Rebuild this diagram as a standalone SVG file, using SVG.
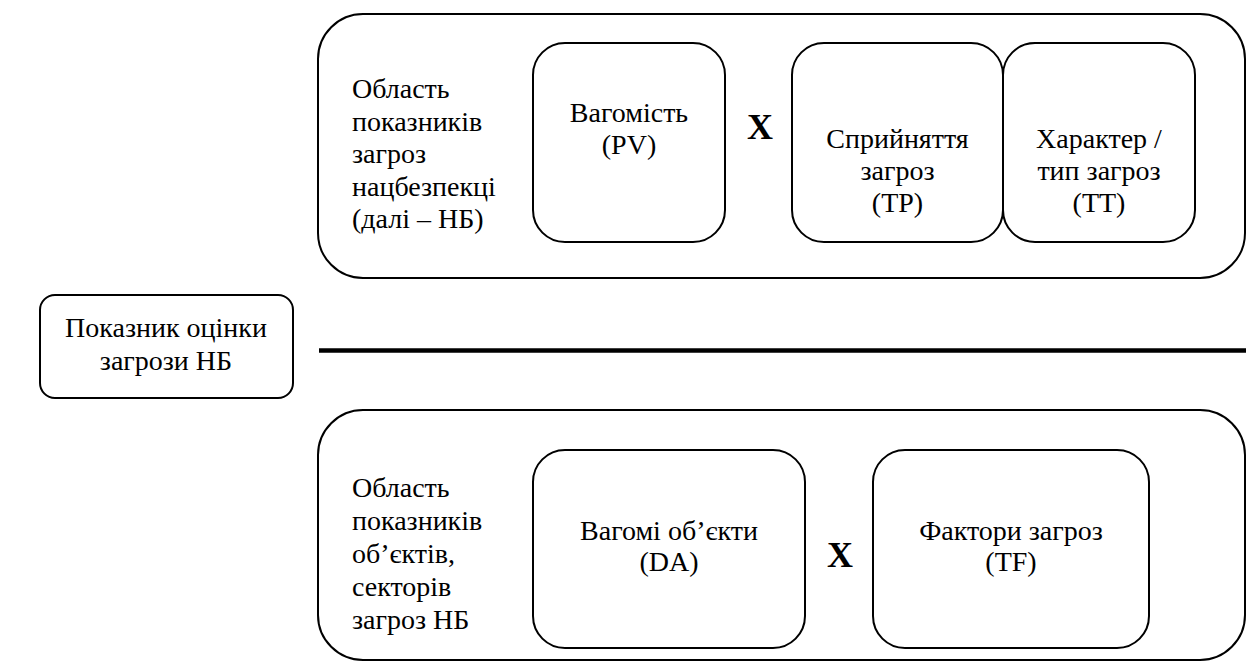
<svg xmlns="http://www.w3.org/2000/svg" width="1252" height="671" viewBox="0 0 1252 671">
<style>
.frame{fill:#fff;stroke:#000;stroke-width:2}
.lbl{font-family:'Liberation Serif','Times New Roman',serif;font-size:28px;fill:#000}
.mid{text-anchor:middle}
.op{font-family:'Liberation Serif','Times New Roman',serif;font-size:36px;font-weight:bold;text-anchor:middle;fill:#000}
</style>
<rect width="1252" height="671" fill="#fff"/>
<g id="top-area">
<rect class="frame" x="318" y="14" width="927" height="264" rx="45" ry="45"/>
<text class="lbl" x="352" y="98">Область</text>
<text class="lbl" x="352" y="130.5">показників</text>
<text class="lbl" x="352" y="163">загроз</text>
<text class="lbl" x="352" y="195.5">нацбезпекці</text>
<text class="lbl" x="352" y="228">(далі – НБ)</text>
</g>
<g id="node-pv">
<rect class="frame" x="533" y="43" width="192" height="199" rx="32" ry="32"/>
<text class="lbl mid" x="629" y="122">Вагомість</text>
<text class="lbl mid" x="629" y="154">(PV)</text>
</g>
<g id="op-x1"><text class="op" x="760" y="139">X</text></g>
<g id="node-tp">
<rect class="frame" x="792" y="43" width="211" height="199" rx="32" ry="32"/>
<text class="lbl mid" x="897.5" y="148">Сприйняття</text>
<text class="lbl mid" x="897.5" y="180">загроз</text>
<text class="lbl mid" x="897.5" y="212">(TP)</text>
</g>
<g id="node-tt">
<rect class="frame" x="1003" y="43" width="192" height="199" rx="32" ry="32"/>
<text class="lbl mid" x="1099" y="148">Характер /</text>
<text class="lbl mid" x="1099" y="180">тип загроз</text>
<text class="lbl mid" x="1099" y="212">(TT)</text>
</g>
<g id="node-main">
<rect class="frame" x="40" y="295" width="253" height="103" rx="15" ry="15"/>
<text class="lbl mid" x="166" y="337">Показник оцінки</text>
<text class="lbl mid" x="166" y="370">загрози НБ</text>
</g>
<g id="connectors">
<line x1="319" y1="350.5" x2="1246" y2="350.5" stroke="#000" stroke-width="4.5"/>
</g>
<g id="bottom-area">
<rect class="frame" x="318" y="410" width="927" height="250" rx="45" ry="45"/>
<text class="lbl" x="352" y="497">Область</text>
<text class="lbl" x="352" y="530">показників</text>
<text class="lbl" x="352" y="563">об’єктів,</text>
<text class="lbl" x="352" y="596">секторів</text>
<text class="lbl" x="352" y="629">загроз НБ</text>
</g>
<g id="node-da">
<rect class="frame" x="533" y="450" width="272" height="198" rx="32" ry="32"/>
<text class="lbl mid" x="669" y="540">Вагомі об’єкти</text>
<text class="lbl mid" x="669" y="571">(DA)</text>
</g>
<g id="op-x2"><text class="op" x="840" y="567">X</text></g>
<g id="node-tf">
<rect class="frame" x="873" y="450" width="276" height="198" rx="32" ry="32"/>
<text class="lbl mid" x="1011" y="540">Фактори загроз</text>
<text class="lbl mid" x="1011" y="571">(TF)</text>
</g>
</svg>
